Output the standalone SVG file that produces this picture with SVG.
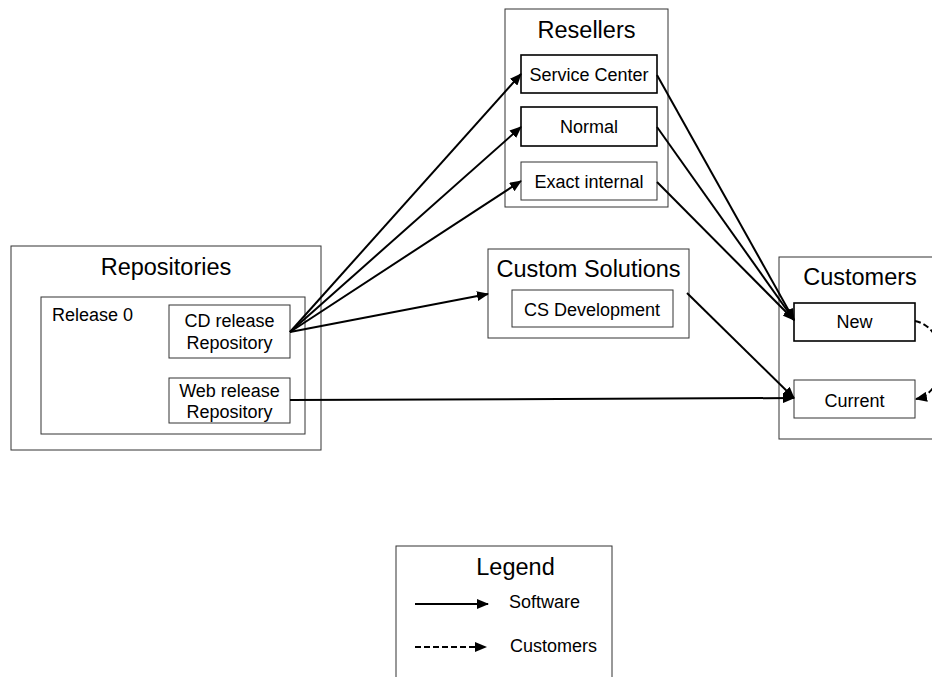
<svg xmlns="http://www.w3.org/2000/svg" width="932" height="677" viewBox="0 0 932 677">
<style>
text{font-family:"Liberation Sans",Arial,sans-serif;fill:#000}
.t{font-size:23.5px}
.s{font-size:18px}
.box{fill:#fff;stroke:#333;stroke-width:1}
.bold{fill:#fff;stroke:#000;stroke-width:1.6}
.c{fill:none;stroke:#000;stroke-width:2}
.d{fill:none;stroke:#000;stroke-width:2;stroke-dasharray:6 3}
</style>
<defs>
<marker id="ah" markerUnits="userSpaceOnUse" markerWidth="12" markerHeight="10" refX="11" refY="5" orient="auto">
<path d="M0,0 L12,5 L0,10 Z" fill="#000"/>
</marker>
</defs>
<rect width="932" height="677" fill="#fff"/>
<g id="repositories">
<rect class="box" x="11" y="246" width="310" height="204"/>
<text class="t" x="166" y="275" text-anchor="middle">Repositories</text>
<g id="release0">
<rect class="box" x="41" y="297" width="264" height="137"/>
<text class="s" x="52" y="321">Release 0</text>
</g>
<g id="cd-release">
<rect class="box" x="169" y="305" width="121" height="53"/>
<text class="s" x="229.5" y="327" text-anchor="middle">CD release</text>
<text class="s" x="229.5" y="349" text-anchor="middle">Repository</text>
</g>
<g id="web-release">
<rect class="box" x="169" y="378" width="121" height="45"/>
<text class="s" x="229.5" y="397" text-anchor="middle">Web release</text>
<text class="s" x="229.5" y="418" text-anchor="middle">Repository</text>
</g>
</g>
<g id="resellers">
<rect class="box" x="505" y="9" width="163" height="198"/>
<text class="t" x="586.5" y="38" text-anchor="middle">Resellers</text>
<g id="service-center">
<rect class="bold" x="521" y="55" width="136" height="38"/>
<text class="s" x="589" y="81" text-anchor="middle">Service Center</text>
</g>
<g id="normal">
<rect class="bold" x="521" y="107" width="136" height="39"/>
<text class="s" x="589" y="133" text-anchor="middle">Normal</text>
</g>
<g id="exact-internal">
<rect class="box" x="521" y="162" width="136" height="38"/>
<text class="s" x="589" y="188" text-anchor="middle">Exact internal</text>
</g>
</g>
<g id="custom-solutions">
<rect class="box" x="488" y="249" width="201" height="89"/>
<text class="t" x="588.5" y="277" text-anchor="middle">Custom Solutions</text>
<g id="cs-development">
<rect class="box" x="512" y="290" width="161" height="37"/>
<text class="s" x="592" y="316" text-anchor="middle">CS Development</text>
</g>
</g>
<g id="customers">
<rect class="box" x="779" y="257" width="160" height="182"/>
<text class="t" x="860" y="285" text-anchor="middle">Customers</text>
<g id="new">
<rect class="bold" x="794" y="303" width="121" height="38"/>
<text class="s" x="854.5" y="328" text-anchor="middle">New</text>
</g>
<g id="current">
<rect class="box" x="794" y="380" width="121" height="38"/>
<text class="s" x="854.5" y="407" text-anchor="middle">Current</text>
</g>
</g>
<g id="connectors">
<line class="c" x1="290" y1="332" x2="521" y2="74" marker-end="url(#ah)"/>
<line class="c" x1="290" y1="332" x2="521" y2="127" marker-end="url(#ah)"/>
<line class="c" x1="290" y1="332" x2="521" y2="181" marker-end="url(#ah)"/>
<line class="c" x1="290" y1="332" x2="488" y2="294" marker-end="url(#ah)"/>
<line class="c" x1="657" y1="75" x2="794" y2="320" marker-end="url(#ah)"/>
<line class="c" x1="657" y1="127" x2="794" y2="320" marker-end="url(#ah)"/>
<line class="c" x1="657" y1="182" x2="794" y2="320" marker-end="url(#ah)"/>
<line class="c" x1="687" y1="293" x2="794" y2="398" marker-end="url(#ah)"/>
<line class="c" x1="290" y1="400" x2="794" y2="398" marker-end="url(#ah)"/>
<path class="d" d="M915,321 C950,328 950,392 916,399" marker-end="url(#ah)"/>
</g>
<g id="legend">
<rect class="box" x="396" y="546" width="216" height="140"/>
<text class="t" x="515.5" y="575" text-anchor="middle">Legend</text>
<line class="c" x1="415" y1="604" x2="488" y2="604" marker-end="url(#ah)"/>
<text class="s" x="509" y="608" font-size="16">Software</text>
<line class="d" x1="415" y1="647" x2="486" y2="647" marker-end="url(#ah)"/>
<text class="s" x="510" y="652" font-size="16">Customers</text>
</g>
</svg>
